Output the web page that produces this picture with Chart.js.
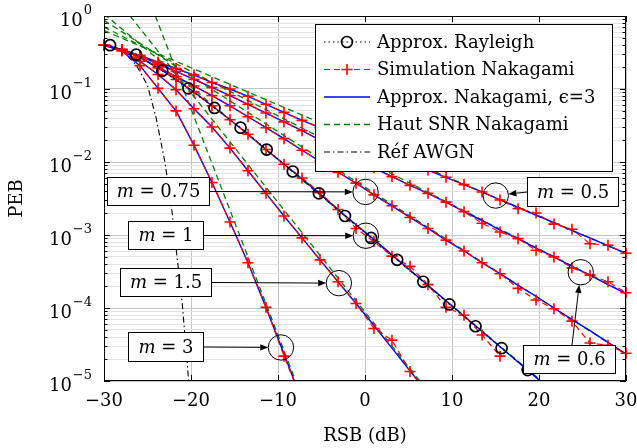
<!DOCTYPE html>
<html>
<head>
<meta charset="utf-8">
<script src="https://cdn.jsdelivr.net/npm/chart.js@4.4.1/dist/chart.umd.min.js"></script>
<style>
html, body { margin: 0; padding: 0; background: #fff; }
#wrap { width: 637px; height: 448px; }
</style>
</head>
<body>
<div id="wrap"><canvas id="myChart"></canvas></div>
<script>
// RSB des simulations (dB)
const snrSim = [-30, -27.93, -25.86, -23.79, -21.72, -19.66, -17.59, -15.52, -13.45, -11.38,
    -9.31, -7.24, -5.17, -3.10, -1.03, 1.03, 3.10, 5.17, 7.24, 9.31,
    11.38, 13.45, 15.52, 17.59, 19.66, 21.72, 23.79, 25.86, 27.93, 30];

// Approx. Nakagami (epsilon = 3)
const approxM05 = [3.98e-1, 3.47e-1, 2.88e-1, 2.34e-1, 1.91e-1, 1.55e-1, 1.23e-1, 1.00e-1, 7.94e-2, 6.17e-2,
    4.79e-2, 3.72e-2, 2.95e-2, 2.34e-2, 1.86e-2, 1.48e-2, 1.20e-2, 9.55e-3, 7.76e-3, 6.17e-3,
    4.90e-3, 3.89e-3, 3.02e-3, 2.40e-3, 1.86e-3, 1.48e-3, 1.15e-3, 9.12e-4, 7.08e-4, 5.62e-4];
const approxM06 = [3.98e-1, 3.47e-1, 2.82e-1, 2.19e-1, 1.74e-1, 1.35e-1, 1.05e-1, 8.13e-2, 6.17e-2, 4.68e-2,
    3.55e-2, 2.69e-2, 2.00e-2, 1.48e-2, 1.12e-2, 8.32e-3, 6.31e-3, 4.79e-3, 3.72e-3, 2.82e-3,
    2.09e-3, 1.58e-3, 1.17e-3, 8.91e-4, 6.61e-4, 5.01e-4, 3.72e-4, 2.82e-4, 2.09e-4, 1.58e-4];
const approxM075 = [3.98e-1, 3.47e-1, 2.69e-1, 2.00e-1, 1.48e-1, 1.10e-1, 8.13e-2, 5.89e-2, 4.17e-2, 2.95e-2,
    2.09e-2, 1.45e-2, 1.02e-2, 7.24e-3, 5.13e-3, 3.55e-3, 2.51e-3, 1.74e-3, 1.23e-3, 8.51e-4,
    6.03e-4, 4.17e-4, 2.95e-4, 2.04e-4, 1.45e-4, 1.00e-4, 6.92e-5, 4.90e-5, 3.39e-5, 2.34e-5];
const approxM1 = [3.98e-1, 3.47e-1, 2.69e-1, 1.95e-1, 1.35e-1, 9.12e-2, 5.89e-2, 3.80e-2, 2.40e-2, 1.48e-2,
    9.33e-3, 5.89e-3, 3.63e-3, 2.24e-3, 1.38e-3, 8.71e-4, 5.37e-4, 3.31e-4, 2.04e-4, 1.26e-4,
    7.76e-5, 4.79e-5, 2.95e-5, 1.82e-5, 1.12e-5, 6.92e-6];
const approxM15 = [3.98e-1, 3.39e-1, 2.40e-1, 1.58e-1, 9.77e-2, 5.37e-2, 3.02e-2, 1.55e-2, 7.59e-3, 3.72e-3,
    1.82e-3, 9.12e-4, 4.57e-4, 2.29e-4, 1.15e-4, 5.75e-5, 2.82e-5, 1.38e-5, 6.76e-6];
const approxM3 = [3.98e-1, 3.31e-1, 2.09e-1, 1.02e-1, 5.01e-2, 1.70e-2, 5.25e-3, 1.51e-3, 4.17e-4, 1.02e-4,
    2.34e-5, 5.37e-6];

// Simulation Nakagami
const simM05 = [3.98e-1, 3.47e-1, 2.88e-1, 2.34e-1, 1.91e-1, 1.55e-1, 1.23e-1, 1.00e-1, 7.94e-2, 6.17e-2,
    4.79e-2, 3.72e-2, 2.95e-2, 2.34e-2, 1.86e-2, 1.48e-2, 1.20e-2, 9.55e-3, 7.76e-3, 6.17e-3,
    4.90e-3, 3.89e-3, 3.02e-3, 2.29e-3, 2.00e-3, 1.41e-3, 1.20e-3, 7.59e-4, 7.24e-4, 5.62e-4];
const simM06 = [3.98e-1, 3.47e-1, 2.82e-1, 2.19e-1, 1.74e-1, 1.35e-1, 1.05e-1, 8.13e-2, 6.17e-2, 4.68e-2,
    3.55e-2, 2.69e-2, 2.00e-2, 1.48e-2, 1.12e-2, 8.32e-3, 6.31e-3, 4.79e-3, 3.72e-3, 2.82e-3,
    2.09e-3, 1.45e-3, 1.10e-3, 8.91e-4, 6.17e-4, 5.01e-4, 3.55e-4, 2.82e-4, 2.29e-4, 1.62e-4];
const simM075 = [3.98e-1, 3.47e-1, 2.69e-1, 2.00e-1, 1.48e-1, 1.10e-1, 8.13e-2, 5.89e-2, 4.17e-2, 2.95e-2,
    2.09e-2, 1.45e-2, 1.02e-2, 7.24e-3, 5.13e-3, 3.55e-3, 2.51e-3, 1.74e-3, 1.23e-3, 8.51e-4,
    6.03e-4, 4.17e-4, 2.95e-4, 1.86e-4, 1.29e-4, 9.77e-5, 6.61e-5, 3.31e-5, 3.09e-5, 2.40e-5];
const simM1 = [3.98e-1, 3.47e-1, 2.69e-1, 1.95e-1, 1.35e-1, 9.12e-2, 5.89e-2, 3.80e-2, 2.40e-2, 1.48e-2,
    9.33e-3, 6.03e-3, 3.80e-3, 2.24e-3, 1.23e-3, 8.13e-4, 5.13e-4, 3.72e-4, 2.09e-4, 1.02e-4,
    7.94e-5, 4.27e-5, 2.19e-5];
const simM15 = [3.98e-1, 3.39e-1, 2.40e-1, 1.58e-1, 9.77e-2, 5.37e-2, 3.02e-2, 1.55e-2, 7.59e-3, 3.72e-3,
    1.82e-3, 9.12e-4, 4.57e-4, 2.29e-4, 1.15e-4, 5.25e-5, 3.63e-5, 1.35e-5, 6.76e-6];
const simM3 = [3.98e-1, 3.31e-1, 2.09e-1, 1.02e-1, 5.01e-2, 1.70e-2, 5.25e-3, 1.51e-3, 4.17e-4, 1.02e-4,
    2.19e-5, 5.37e-6];

// Approx. Rayleigh (cercles)
const snrRay = [-29.3, -26.3, -23.3, -20.3, -17.3, -14.3, -11.3, -8.3, -5.3, -2.3, 0.7, 3.7, 6.7, 9.7, 12.7, 15.7, 18.7];
const pebRay = [3.98e-1, 2.95e-1, 1.78e-1, 1.02e-1, 5.50e-2, 2.95e-2, 1.48e-2, 7.41e-3, 3.72e-3, 1.82e-3,
    9.12e-4, 4.57e-4, 2.29e-4, 1.12e-4, 5.62e-5, 2.82e-5, 1.41e-5];

// Haut SNR (asymptotes), [RSB, PEB]
const hsM05 = [[-30, 6.31e-1], [30, 5.62e-4]];
const hsM06 = [[-30, 7.08e-1], [30, 1.58e-4]];
const hsM075 = [[-30, 8.71e-1], [30, 2.34e-5]];
const hsM1 = [[-30, 1.07], [20.3, 1.0e-5]];
const hsM15 = [[-27.0, 1.0], [6.3, 1.0e-5]];
const hsM3 = [[-24.1, 1.0], [-7.97, 1.0e-5]];

// Réf AWGN
const snrAwgn = [-30, -28, -26.3, -25, -24, -23, -22.2, -21.6, -21.0, -20.4, -20.1];
const pebAwgn = [3.98e-1, 3.47e-1, 2.14e-1, 1.12e-1, 3.98e-2, 1.00e-2, 2.19e-3, 5.01e-4, 1.12e-4, 1.58e-5, 5.01e-6];

// axes
const xTicks = [-30, -20, -10, 0, 10, 20, 30];
const xTickLabels = ['\u221230', '\u221220', '\u221210', '0', '10', '20', '30'];
const yTicks = [1, 1e-1, 1e-2, 1e-3, 1e-4, 1e-5];
const yTickExp = ['0', '\u22121', '\u22122', '\u22123', '\u22124', '\u22125'];

// annotations : m, cercle (RSB, PEB), boîte en pixels
const notes = [
    { m: '0.75', cx: 0.06, cy: 3.89e-3, box: [107, 177, 210, 206] },
    { m: '1', cx: 0.1, cy: 9.77e-4, box: [128, 221, 204, 250] },
    { m: '1.5', cx: -3.0, cy: 2.19e-4, box: [120, 268, 212, 297] },
    { m: '3', cx: -9.66, cy: 2.88e-5, box: [128, 332, 204, 362] },
    { m: '0.5', cx: 15.03, cy: 3.47e-3, box: [527, 177, 619, 207] },
    { m: '0.6', cx: 24.8, cy: 3.09e-4, box: [523, 345, 616, 374], from: 'top' }
];

const FONT = '"DejaVu Serif", serif';
const RED = '#ff0000', BLUE = '#0000ff', GREEN = '#008000', BLACK = '#000000';

function pts(xs, ys) { return ys.map((y, i) => ({ x: xs[i], y: y })); }
function pairs(arr) { return arr.map(p => ({ x: p[0], y: p[1] })); }

const clipMark = { left: 6, right: 6, top: 0, bottom: 0 };

function simSet(ys) {
    return {
        data: pts(snrSim, ys), borderColor: RED, borderWidth: 1.2, borderDash: [6, 4],
        pointStyle: 'cross', pointRadius: 5.5, pointBorderWidth: 1.6, pointBorderColor: RED,
        clip: clipMark
    };
}
function approxSet(ys) {
    return { data: pts(snrSim, ys), borderColor: BLUE, borderWidth: 1.4, pointRadius: 0, clip: 0 };
}
function hsSet(arr) {
    return { data: pairs(arr), borderColor: GREEN, borderWidth: 1.3, borderDash: [6, 4], pointRadius: 0, clip: 0 };
}

const datasets = [
    {
        data: pts(snrRay, pebRay), borderColor: BLACK, borderWidth: 1.2, borderDash: [1.5, 3],
        pointStyle: 'circle', pointRadius: 5.5, pointBorderWidth: 1.7, pointBorderColor: BLACK,
        pointBackgroundColor: 'rgba(0,0,0,0)', clip: clipMark
    },
    simSet(simM05), simSet(simM06), simSet(simM075), simSet(simM1), simSet(simM15), simSet(simM3),
    approxSet(approxM05), approxSet(approxM06), approxSet(approxM075), approxSet(approxM1),
    approxSet(approxM15), approxSet(approxM3),
    hsSet(hsM05), hsSet(hsM06), hsSet(hsM075), hsSet(hsM1), hsSet(hsM15), hsSet(hsM3),
    {
        data: pts(snrAwgn, pebAwgn), borderColor: BLACK, borderWidth: 1.1, borderDash: [6, 3, 1.5, 3],
        pointRadius: 0, clip: 0
    }
];

function isMajor(v) {
    const l = Math.log10(v);
    return Math.abs(l - Math.round(l)) < 1e-6;
}

function arrowTo(ctx, x0, y0, x1, y1) {
    const a = Math.atan2(y1 - y0, x1 - x0);
    const L = 8, W = 3.2;
    ctx.beginPath();
    ctx.moveTo(x0, y0);
    ctx.lineTo(x1 - L * Math.cos(a), y1 - L * Math.sin(a));
    ctx.stroke();
    ctx.beginPath();
    ctx.moveTo(x1, y1);
    ctx.lineTo(x1 - L * Math.cos(a) + W * Math.sin(a), y1 - L * Math.sin(a) - W * Math.cos(a));
    ctx.lineTo(x1 - L * Math.cos(a) - W * Math.sin(a), y1 - L * Math.sin(a) + W * Math.cos(a));
    ctx.closePath();
    ctx.fill();
}

function drawMLabel(ctx, text, cx, cy) {
    ctx.textBaseline = 'middle';
    ctx.textAlign = 'left';
    ctx.font = 'italic 18px ' + FONT;
    const wm = ctx.measureText('m').width;
    ctx.font = '18px ' + FONT;
    const rest = ' = ' + text;
    const wr = ctx.measureText(rest).width;
    const x0 = cx - (wm + wr) / 2;
    ctx.font = 'italic 18px ' + FONT;
    ctx.fillText('m', x0, cy);
    ctx.font = '18px ' + FONT;
    ctx.fillText(rest, x0 + wm, cy);
}

const decor = {
    id: 'decor',
    afterDatasetsDraw(chart) {
        const ctx = chart.ctx;
        const a = chart.chartArea;
        const xs = chart.scales.x, ys = chart.scales.y;
        ctx.save();

        // cadre et graduations
        ctx.strokeStyle = BLACK;
        ctx.lineWidth = 1;
        ctx.strokeRect(Math.round(a.left) + 0.5, Math.round(a.top) + 0.5,
            Math.round(a.right - a.left) - 1, Math.round(a.bottom - a.top) - 1);
        ys.ticks.forEach(t => {
            const py = Math.round(ys.getPixelForValue(t.value)) + 0.5;
            const len = isMajor(t.value) ? 6 : 3.5;
            ctx.beginPath();
            ctx.moveTo(a.left, py); ctx.lineTo(a.left + len, py);
            ctx.moveTo(a.right, py); ctx.lineTo(a.right - len, py);
            ctx.stroke();
        });
        xTicks.forEach(v => {
            const px = Math.round(xs.getPixelForValue(v)) + 0.5;
            ctx.beginPath();
            ctx.moveTo(px, a.bottom); ctx.lineTo(px, a.bottom - 6);
            ctx.moveTo(px, a.top); ctx.lineTo(px, a.top + 6);
            ctx.stroke();
        });

        // annotations m = ...
        notes.forEach(n => {
            const cx = xs.getPixelForValue(n.cx), cy = ys.getPixelForValue(n.cy);
            const r = 12.7;
            const [bx0, by0, bx1, by1] = n.box;
            let sx, sy;
            if (n.from === 'top') { sx = bx0 + 49; sy = by0; }
            else if (bx0 > cx) { sx = bx0; sy = (by0 + by1) / 2; }
            else { sx = bx1; sy = (by0 + by1) / 2; }
            const d = Math.hypot(cx - sx, cy - sy);
            const ex = cx - (cx - sx) * r / d, ey = cy - (cy - sy) * r / d;
            ctx.strokeStyle = BLACK; ctx.fillStyle = BLACK; ctx.lineWidth = 1;
            arrowTo(ctx, sx, sy, ex, ey);
            ctx.beginPath();
            ctx.arc(cx, cy, r, 0, Math.PI * 2);
            ctx.stroke();
            ctx.fillStyle = '#ffffff';
            ctx.fillRect(bx0, by0, bx1 - bx0, by1 - by0);
            ctx.strokeRect(bx0 + 0.5, by0 + 0.5, bx1 - bx0 - 1, by1 - by0 - 1);
            ctx.fillStyle = BLACK;
            drawMLabel(ctx, n.m, (bx0 + bx1) / 2, (by0 + by1) / 2 + 1);
        });

        // légende
        const lx0 = 315, ly0 = 24, lx1 = 613, ly1 = 172;
        ctx.fillStyle = '#ffffff';
        ctx.fillRect(lx0, ly0, lx1 - lx0, ly1 - ly0);
        ctx.strokeStyle = BLACK; ctx.lineWidth = 1;
        ctx.strokeRect(lx0 + 0.5, ly0 + 0.5, lx1 - lx0 - 1, ly1 - ly0 - 1);
        const entries = [
            { t: 'Approx. Rayleigh', c: BLACK, w: 1.2, dash: [1.5, 3], mark: 'circle' },
            { t: 'Simulation Nakagami', c: RED, w: 1.2, dash: [6, 4], mark: 'cross' },
            { t: 'Approx. Nakagami, \u03f5=3', c: BLUE, w: 1.4, dash: [] },
            { t: 'Haut SNR Nakagami', c: GREEN, w: 1.3, dash: [6, 4] },
            { t: 'R\u00e9f AWGN', c: BLACK, w: 1.1, dash: [6, 3, 1.5, 3] }
        ];
        entries.forEach((e, i) => {
            const y = 42 + i * 27.5;
            ctx.strokeStyle = e.c; ctx.lineWidth = e.w; ctx.setLineDash(e.dash);
            ctx.beginPath(); ctx.moveTo(324, y); ctx.lineTo(370, y); ctx.stroke();
            ctx.setLineDash([]);
            ctx.lineWidth = 1.6;
            if (e.mark === 'circle') {
                ctx.beginPath(); ctx.arc(347, y, 5.5, 0, Math.PI * 2); ctx.stroke();
            } else if (e.mark === 'cross') {
                ctx.beginPath();
                ctx.moveTo(341.5, y); ctx.lineTo(352.5, y);
                ctx.moveTo(347, y - 5.5); ctx.lineTo(347, y + 5.5);
                ctx.stroke();
            }
            ctx.fillStyle = BLACK;
            ctx.font = '18px ' + FONT;
            ctx.textAlign = 'left'; ctx.textBaseline = 'middle';
            ctx.fillText(e.t, 377, y + 1);
        });

        // étiquettes des graduations
        ctx.fillStyle = BLACK;
        ctx.textBaseline = 'middle';
        ctx.textAlign = 'center';
        ctx.font = '18px ' + FONT;
        xTicks.forEach((v, i) => {
            ctx.fillText(xTickLabels[i], xs.getPixelForValue(v), 401);
        });
        yTicks.forEach((v, i) => {
            const py = ys.getPixelForValue(v);
            ctx.font = '13px ' + FONT;
            const we = ctx.measureText(yTickExp[i]).width;
            ctx.font = '18px ' + FONT;
            const wb = ctx.measureText('10').width;
            const right = 92;
            ctx.textAlign = 'left';
            ctx.fillText('10', right - we - wb - 1, py + 5);
            ctx.font = '13px ' + FONT;
            ctx.fillText(yTickExp[i], right - we, py - 5);
        });

        // titres des axes
        ctx.font = '18px ' + FONT;
        ctx.textAlign = 'center';
        ctx.fillText('RSB (dB)', (a.left + a.right) / 2, 436);
        ctx.translate(17, (a.top + a.bottom) / 2);
        ctx.rotate(-Math.PI / 2);
        ctx.fillText('PEB', 0, 0);
        ctx.restore();
    }
};

const config = {
    type: 'line',
    data: { datasets: datasets },
    options: {
        responsive: true,
        maintainAspectRatio: false,
        animation: false,
        devicePixelRatio: 1,
        layout: { padding: { left: 104, right: 11, top: 16, bottom: 67 } },
        plugins: { legend: { display: false }, tooltip: { enabled: false } },
        elements: { line: { tension: 0 } },
        scales: {
            x: {
                type: 'linear', min: -30, max: 30,
                afterBuildTicks: s => { s.ticks = xTicks.map(v => ({ value: v })); },
                afterFit: s => { s.height = 0; },
                ticks: { display: false },
                grid: { color: '#c4c4c4', lineWidth: 1, drawTicks: false },
                border: { display: false }
            },
            y: {
                type: 'logarithmic', min: 1e-5, max: 1,
                afterBuildTicks: s => {
                    const t = [];
                    yTicks.forEach(v => {
                        t.push({ value: v });
                        if (v > 1e-5) {
                            for (let k = 2; k <= 9; k++) t.push({ value: v / 10 * k });
                        }
                    });
                    s.ticks = t.sort((p, q) => p.value - q.value);
                },
                afterFit: s => { s.width = 0; },
                ticks: { display: false },
                grid: {
                    color: c => (c.tick && isMajor(c.tick.value)) ? '#c4c4c4' : '#e2e2e2',
                    lineWidth: 1, drawTicks: false
                },
                border: { display: false }
            }
        }
    },
    plugins: [decor]
};

const myChart = new Chart(document.getElementById('myChart'), config);
</script>
</body>
</html>
